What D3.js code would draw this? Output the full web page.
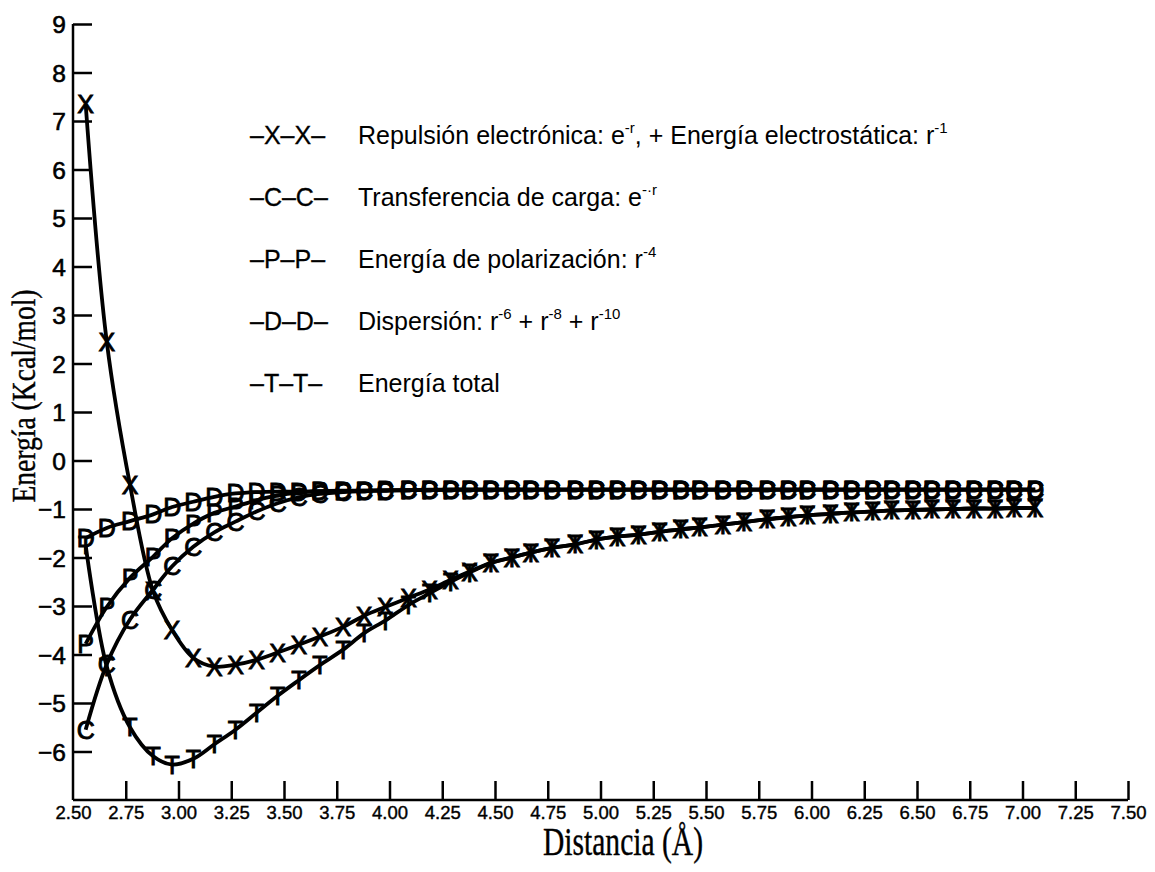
<!DOCTYPE html>
<html><head><meta charset="utf-8">
<script src="https://cdn.jsdelivr.net/npm/d3@7"></script>
<style>
html,body{margin:0;padding:0;background:#fff;}
svg{display:block;}
</style></head>
<body>
<svg id="chart" width="1155" height="872"></svg>
<script>
// ---- data ----
const distances = [2.56,2.66,2.77,2.88,2.97,3.07,3.17,3.27,3.37,3.47,3.57,3.67,3.78,3.88,3.98,4.09,4.19,4.29,4.38,4.48,4.58,4.67,4.77,4.88,4.98,5.08,5.18,5.28,5.38,5.47,5.58,5.68,5.79,5.89,5.98,6.09,6.19,6.29,6.38,6.48,6.57,6.67,6.77,6.87,6.96,7.06];
const repulsion = [7.35,2.45,-0.5,-2.7,-3.5,-4.07,-4.25,-4.21,-4.11,-3.96,-3.8,-3.63,-3.43,-3.2,-3.02,-2.83,-2.66,-2.46,-2.29,-2.11,-2.0,-1.9,-1.8,-1.73,-1.63,-1.57,-1.53,-1.47,-1.42,-1.38,-1.32,-1.27,-1.21,-1.17,-1.13,-1.1,-1.07,-1.05,-1.03,-1.02,-1.01,-1.0,-0.99,-0.99,-0.98,-0.98];
const transfer = [-5.55,-4.2,-3.28,-2.66,-2.18,-1.78,-1.48,-1.26,-1.05,-0.88,-0.76,-0.69,-0.65,-0.63,-0.62,-0.61,-0.61,-0.6,-0.6,-0.6,-0.6,-0.6,-0.6,-0.6,-0.6,-0.6,-0.6,-0.6,-0.6,-0.6,-0.6,-0.6,-0.6,-0.6,-0.6,-0.6,-0.6,-0.6,-0.6,-0.6,-0.6,-0.6,-0.6,-0.6,-0.6,-0.6];
const polarization = [-3.78,-3.02,-2.42,-1.98,-1.6,-1.3,-1.08,-0.95,-0.82,-0.72,-0.66,-0.63,-0.62,-0.62,-0.61,-0.61,-0.6,-0.6,-0.6,-0.6,-0.6,-0.6,-0.6,-0.6,-0.6,-0.6,-0.6,-0.6,-0.6,-0.6,-0.6,-0.6,-0.6,-0.6,-0.6,-0.6,-0.6,-0.6,-0.6,-0.6,-0.6,-0.6,-0.6,-0.6,-0.6,-0.6];
const dispersion = [-1.6,-1.39,-1.25,-1.11,-0.96,-0.85,-0.75,-0.68,-0.65,-0.64,-0.64,-0.63,-0.63,-0.62,-0.62,-0.61,-0.61,-0.6,-0.6,-0.6,-0.6,-0.6,-0.6,-0.6,-0.6,-0.6,-0.6,-0.6,-0.6,-0.6,-0.6,-0.6,-0.6,-0.6,-0.6,-0.6,-0.6,-0.6,-0.6,-0.6,-0.6,-0.6,-0.6,-0.6,-0.6,-0.6];
const total = [-1.75,-4.25,-5.5,-6.1,-6.27,-6.15,-5.85,-5.55,-5.2,-4.85,-4.53,-4.22,-3.9,-3.56,-3.3,-2.98,-2.74,-2.5,-2.31,-2.12,-2.0,-1.9,-1.8,-1.73,-1.63,-1.57,-1.53,-1.47,-1.42,-1.38,-1.32,-1.27,-1.21,-1.17,-1.13,-1.1,-1.07,-1.05,-1.03,-1.02,-1.01,-1.0,-0.99,-0.99,-0.98,-0.98];
const seriesMarkers = ["X","C","P","D","T"];
const seriesNames = [
  [["Repulsión electrónica: e",""],["-r","sup"],[", + Energía electrostática: r",""],["-1","sup"]],
  [["Transferencia de carga: e",""],["-·r","sup"]],
  [["Energía de polarización: r",""],["-4","sup"]],
  [["Dispersión: r",""],["-6","sup"],[" + r",""],["-8","sup"],[" + r",""],["-10","sup"]],
  [["Energía total",""]]
];
const xTicks = [2.5,2.75,3.0,3.25,3.5,3.75,4.0,4.25,4.5,4.75,5.0,5.25,5.5,5.75,6.0,6.25,6.5,6.75,7.0,7.25,7.5];
const yTicks = [9,8,7,6,5,4,3,2,1,0,-1,-2,-3,-4,-5,-6];
const xTitle = "Distancia (Å)";
const yTitle = "Energía (Kcal/mol)";

const seriesValues = [repulsion, transfer, polarization, dispersion, total];

// ---- drawing ----
const svg = d3.select("#chart");
const x = d3.scaleLinear().domain([2.5, 7.5]).range([73, 1128]);
const y = d3.scaleLinear().domain([-7, 9]).range([800, 24]);
const sans = "'Liberation Sans', Arial, Helvetica, sans-serif";
const serif = "'Liberation Serif', 'Times New Roman', serif";

// axes
const xAxis = d3.axisBottom(x).tickValues(xTicks).tickSize(-19).tickPadding(0)
  .tickFormat(d3.format(".2f"));
const gx = svg.append("g").attr("transform", "translate(0,800)").call(xAxis);
gx.select(".domain").attr("d", `M${x(2.5)},0H${x(7.5)}`).attr("stroke","#000").attr("stroke-width",2.5);
gx.selectAll(".tick line").attr("stroke","#000").attr("stroke-width",2.5);
gx.selectAll(".tick text").attr("font-family", sans).attr("font-size", 18.5)
  .attr("fill","#000").attr("stroke","#000").attr("stroke-width",0.4)
  .attr("dy", null).attr("y", 19);
gx.selectAll(".tick").filter(d => d === 2.5).select("line").remove();

const yAxis = d3.axisLeft(y).tickValues(yTicks).tickSize(-19).tickPadding(0)
  .tickFormat(d => d < 0 ? "\u2212" + Math.abs(d) : String(d));
const gy = svg.append("g").attr("transform", `translate(${x(2.5)},0)`).call(yAxis);
gy.select(".domain").attr("d", `M0,${y(9)}V${y(-7)}`).attr("stroke","#000").attr("stroke-width",2.5);
gy.selectAll(".tick line").attr("stroke","#000").attr("stroke-width",2.5);
gy.selectAll(".tick text").attr("font-family", sans).attr("font-size", 24.5)
  .attr("fill","#000").attr("stroke","#000").attr("stroke-width",0.6)
  .attr("x", -7).attr("dy", "0.36em");

// axis titles
svg.append("text").attr("x", 623).attr("y", 855).attr("text-anchor","middle")
  .attr("font-family", serif).attr("font-size", 40)
  .attr("stroke","#000").attr("stroke-width",0.4)
  .attr("textLength", 160).attr("lengthAdjust","spacingAndGlyphs")
  .text(xTitle);
svg.append("text").attr("transform","translate(35,396) rotate(-90)")
  .attr("text-anchor","middle").attr("font-family", serif).attr("font-size", 33)
  .attr("stroke","#000").attr("stroke-width",0.4)
  .attr("textLength", 213).attr("lengthAdjust","spacingAndGlyphs")
  .text(yTitle);

// curves
const line = d3.line().x(d => x(d[0])).y(d => y(d[1])).curve(d3.curveCatmullRom.alpha(0.5));
const gLines = svg.append("g");
const gMarks = svg.append("g");
seriesValues.forEach((vals, si) => {
  const pts = distances.map((d, i) => [d, vals[i]]);
  gLines.append("path").attr("d", line(pts)).attr("fill","none")
    .attr("stroke","#000").attr("stroke-width",3.8).attr("stroke-linejoin","round");
});
seriesValues.forEach((vals, si) => {
  const pts = distances.map((d, i) => [d, vals[i]]);
  gMarks.selectAll(null).data(pts).enter().append("text")
    .attr("x", d => x(d[0])).attr("y", d => y(d[1])).attr("dy","0.36em")
    .attr("text-anchor","middle").attr("font-family", sans).attr("font-size", 25)
    .attr("fill","#000").attr("stroke","#000").attr("stroke-width",0.9)
    .text(seriesMarkers[si]);
});

// legend
const legendY = [135, 197, 259, 321, 383];
seriesMarkers.forEach((m, i) => {
  svg.append("text").attr("x", 250).attr("y", legendY[i]).attr("dy","0.36em")
    .attr("font-family", sans).attr("font-size", 25).attr("fill","#000")
    .attr("stroke","#000").attr("stroke-width",0.3)
    .text("\u2013" + m + "\u2013" + m + "\u2013");
  const t = svg.append("text").attr("x", 358).attr("y", legendY[i]).attr("dy","0.36em")
    .attr("font-family", sans).attr("font-size", 25).attr("fill","#000");
  let prevSup = false;
  seriesNames[i].forEach(([s, kind]) => {
    const ts = t.append("tspan").text(s);
    if (kind === "sup") { ts.attr("font-size", 15).attr("dy", -11); prevSup = true; }
    else if (prevSup) { ts.attr("dy", 11); prevSup = false; }
  });
});
</script>
</body></html>
